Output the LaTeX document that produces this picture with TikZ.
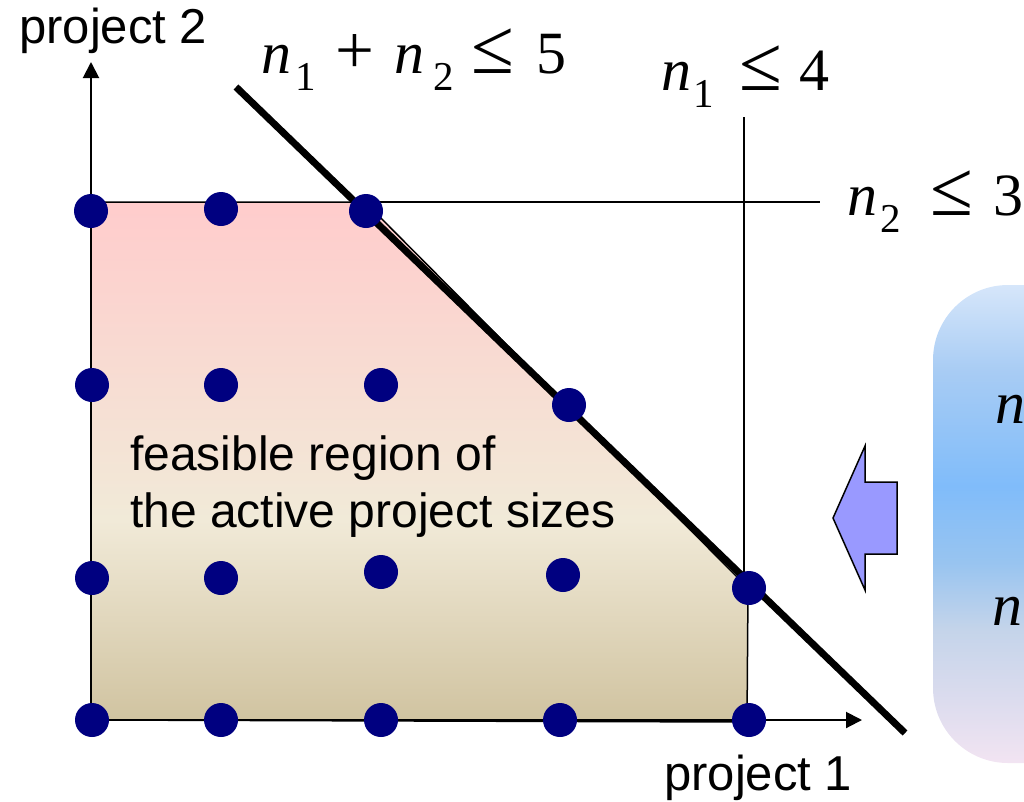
\documentclass[tikz,border=0pt]{standalone}
\usepackage{fontspec}
\setmainfont{Liberation Serif}
\newfontfamily\arialf{Liberation Sans}
\usetikzlibrary{arrows.meta}
\definecolor{rtop}{HTML}{FFCCCC}
\definecolor{rmid}{HTML}{F1EAD8}
\definecolor{rbot}{HTML}{D0C3A0}
\definecolor{navydot}{HTML}{000080}
\definecolor{arrowblue}{HTML}{9999FF}
\definecolor{bA}{HTML}{F2E4F2}
\definecolor{bB}{HTML}{DCDCEE}
\definecolor{bC}{HTML}{C4D4EA}
\definecolor{bD}{HTML}{98C4F0}
\definecolor{bE}{HTML}{80BCFA}
\definecolor{bF}{HTML}{A8CCF4}
\definecolor{bG}{HTML}{D6E6FA}
\pgfdeclareverticalshading{regionshade}{100bp}{color(0bp)=(rbot); color(25bp)=(rbot); color(44.4bp)=(rmid); color(75bp)=(rtop); color(100bp)=(rtop)}
\pgfdeclareverticalshading{boxshade}{100bp}{color(0bp)=(bA); color(25bp)=(bA); color(31.5bp)=(bB); color(39bp)=(bC); color(46bp)=(bD); color(54bp)=(bE); color(66bp)=(bF); color(75bp)=(bG); color(100bp)=(bG)}
\newcommand{\sdig}[1]{\raisebox{-17pt}{\fontsize{41}{41}\selectfont #1}}
\newcommand{\bigle}{\scalebox{1.3}{≤}}
\newcommand{\bigplus}{\scalebox{1.15}{+}}
\tikzset{
  gdot/.style={circle, fill=navydot, inner sep=0pt, minimum size=34pt},
  mathlbl/.style={anchor=base west, inner sep=0pt, font=\fontsize{60}{62}\selectfont},
  sanslbl/.style={anchor=base west, inner sep=0pt, font=\arialf\fontsize{49}{56}\selectfont},
  thinline/.style={line width=1.3pt},
  axisline/.style={line width=2pt, -{Triangle[length=16pt,width=16pt]}}
}
\begin{document}
\begin{tikzpicture}[x=1pt,y=-1pt]
\useasboundingbox (0,0) rectangle (1024,801);
\clip (0,0) rectangle (1024,801);
% right panel
\shade[shading=boxshade, rounded corners=75pt] (933,285) rectangle (1120,763);
\node[mathlbl] (bn1) at (995,423) {\textit{n}};
\node[mathlbl] (bn2) at (992,625) {\textit{n}};
% feasible region
\shadedraw[shading=regionshade, draw=black, line width=1.5pt] (91,202) -- (365,202) -- (748,588) -- (747,722) -- (91,720) -- cycle;
% constraint lines
\draw[thinline] (365,202) -- (820,202);
\draw[thinline] (744,117) -- (744,588);
% axes
\coordinate (O) at (91,720);
\coordinate (ytip) at (91,62);
\coordinate (xtip) at (862,720);
\draw[axisline] (O) -- (ytip);
\draw[axisline] (O) -- (xtip);
% n1+n2<=5
\coordinate (ls) at (236,87);
\coordinate (le) at (905,733);
\draw[line width=7pt] (ls) -- (le);
% block arrow
\filldraw[fill=arrowblue, draw=black, line width=1.5pt, line join=miter] (833,518) -- (865,446) -- (865,482) -- (897,482) -- (897,554) -- (865,554) -- (865,590) -- cycle;
% lattice points
\node[gdot] (p03) at (91,211) {};
\node[gdot] (p13) at (221,209) {};
\node[gdot] (p23) at (366,211) {};
\node[gdot] (p02) at (92,385) {};
\node[gdot] (p12) at (221,385) {};
\node[gdot] (p22) at (381,385) {};
\node[gdot] (p32) at (569,405) {};
\node[gdot] (p01) at (92,578) {};
\node[gdot] (p11) at (221,578) {};
\node[gdot] (p21) at (381,572) {};
\node[gdot] (p31) at (563,575) {};
\node[gdot] (p41) at (749,588) {};
\node[gdot] (p00) at (92,720) {};
\node[gdot] (p10) at (221,720) {};
\node[gdot] (p20) at (381,720) {};
\node[gdot] (p30) at (560,720) {};
\node[gdot] (p40) at (749,720) {};
% labels
\node[sanslbl] (ylab) at (19,43) {project 2};
\node[sanslbl] (xlab) at (664,790) {project 1};
\node[anchor=base west, inner sep=0pt] (feas) at (130,470) {\arialf\fontsize{48}{57}\selectfont\begin{tabular}[t]{@{}l@{}}feasible region of\\the active project sizes\end{tabular}};
\node[mathlbl] (c1) at (261,73) {\textit{n}\kern4pt\sdig{1}\kern20pt\bigplus\kern20pt\textit{n}\kern9pt\sdig{2}\kern17pt\bigle\kern23pt5};
\node[mathlbl] (c2) at (661,90) {\textit{n}\kern2.6pt\sdig{1}\kern25pt\bigle\kern17pt4};
\node[mathlbl] (c3) at (847,215) {\textit{n}\kern3pt\sdig{2}\kern30pt\bigle\kern20pt3};
\end{tikzpicture}
\end{document}
